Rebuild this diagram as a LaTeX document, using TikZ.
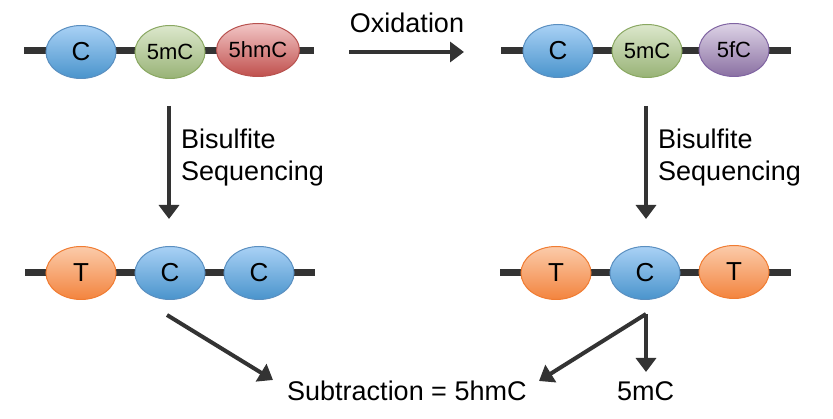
\documentclass[tikz,border=0pt]{standalone}
\usepackage{fontspec}
\setmainfont{Liberation Sans}
\usetikzlibrary{shapes.geometric,arrows.meta}
\definecolor{strand}{HTML}{333333}
\definecolor{bluetop}{HTML}{A9D1F5}
\definecolor{bluebot}{HTML}{4A94CC}
\definecolor{bluebd}{HTML}{5A8FC0}
\definecolor{greentop}{HTML}{DCE8CC}
\definecolor{greenbot}{HTML}{98B276}
\definecolor{greenbd}{HTML}{8AA862}
\definecolor{redtop}{HTML}{F2C6C6}
\definecolor{redbot}{HTML}{C0504D}
\definecolor{redbd}{HTML}{B8524F}
\definecolor{purptop}{HTML}{DDD3E6}
\definecolor{purpbot}{HTML}{8A70A2}
\definecolor{purpbd}{HTML}{8064A2}
\definecolor{orgtop}{HTML}{FBCBAA}
\definecolor{orgbot}{HTML}{F3843E}
\definecolor{orgbd}{HTML}{F07C32}
\begin{document}
\begin{tikzpicture}[x=1pt,y=-1pt,
  base/.style={ellipse, draw, line width=1pt, minimum width=70pt, minimum height=53pt, inner sep=0pt, font=\fontsize{22}{22}\selectfont},
  big/.style={font=\fontsize{26}{26}\selectfont},
  cyt/.style={base, draw=bluebd, top color=bluetop, bottom color=bluebot},
  mcyt/.style={base, draw=greenbd, top color=greentop, bottom color=greenbot},
  hmcyt/.style={base, draw=redbd, top color=redtop, bottom color=redbot},
  fcyt/.style={base, draw=purpbd, top color=purptop, bottom color=purpbot},
  thy/.style={base, draw=orgbd, top color=orgtop, bottom color=orgbot},
  strandline/.style={line width=7pt, draw=strand},
  arr/.style={line width=4pt, draw=strand, -{Triangle[width=20pt,length=14pt]}},
  lbl/.style={font=\fontsize{27}{32}\selectfont, inner sep=0pt, text=black}]
\useasboundingbox (0,0) rectangle (833,419);
% strands
\coordinate (s1a) at (24,51); \coordinate (s1b) at (314,51);
\coordinate (s2a) at (501,51); \coordinate (s2b) at (791,51);
\coordinate (s3a) at (25,273); \coordinate (s3b) at (315,273);
\coordinate (s4a) at (500,273); \coordinate (s4b) at (791,273);
\draw[strandline] (s1a) -- (s1b);
\draw[strandline] (s2a) -- (s2b);
\draw[strandline] (s3a) -- (s3b);
\draw[strandline] (s4a) -- (s4b);
% top left
\node[cyt,big] (a1) at (81,52) {C};
\node[mcyt] (a2) at (170,52) {5mC};
\node[hmcyt] (a3) at (258,50) {5hmC};
% top right
\node[cyt,big] (b1) at (558,51) {C};
\node[mcyt] (b2) at (647,51) {5mC};
\node[fcyt] (b3) at (734,50) {5fC};
% bottom left
\node[thy,big] (c1) at (81,273) {T};
\node[cyt,big] (c2) at (170,273) {C};
\node[cyt,big] (c3) at (259,273) {C};
% bottom right
\node[thy,big] (d1) at (556,273) {T};
\node[cyt,big] (d2) at (645,273) {C};
\node[thy,big] (d3) at (734,272) {T};
% oxidation
\coordinate (ox1) at (349,52); \coordinate (ox2) at (464,52);
\draw[arr] (ox1) -- (ox2);
\node[lbl, anchor=base] (oxl) at (407,33) {Oxidation};
% bisulfite arrows
\coordinate (l1) at (169,106); \coordinate (l2) at (169,219);
\coordinate (r1) at (646,106); \coordinate (r2) at (646,219);
\draw[arr] (l1) -- (l2);
\draw[arr] (r1) -- (r2);
\node[lbl, anchor=base west] (bl1) at (181,149) {Bisulfite};
\node[lbl, anchor=base west] (bl2) at (181,181) {Sequencing};
\node[lbl, anchor=base west] (br1) at (658,149) {Bisulfite};
\node[lbl, anchor=base west] (br2) at (658,181) {Sequencing};
% bottom labels
\node[lbl, anchor=base west] (sub) at (287,401) {Subtraction = 5hmC};
\node[lbl, anchor=base west] (mc) at (617,401) {5mC};
% bottom arrows
\coordinate (dl) at (167,315); \coordinate (dlt) at (273,380);
\coordinate (fk) at (646,314); \coordinate (fkl) at (539,381); \coordinate (fkd) at (646,372);
\draw[arr] (dl) -- (dlt);
\draw[arr] (fk) -- (fkl);
\draw[arr] (fk) -- (fkd);
\end{tikzpicture}
\end{document}
